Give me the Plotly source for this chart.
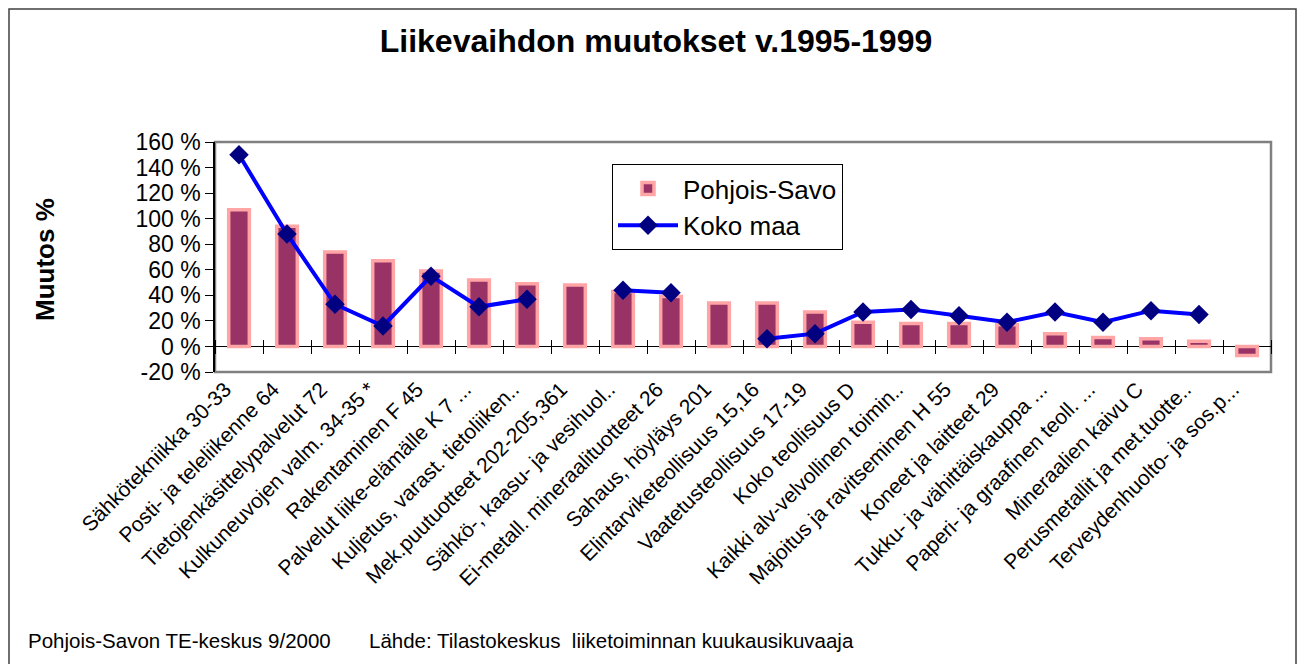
import plotly.graph_objects as go

categories = [
    "Sähkötekniikka 30-33",
    "Posti- ja teleliikenne 64",
    "Tietojenkäsittelypalvelut 72",
    "Kulkuneuvojen valm. 34-35 *",
    "Rakentaminen F 45",
    "Palvelut liike-elämälle K 7 ...",
    "Kuljetus, varast. tietoliiken..",
    "Mek.puutuotteet 202-205,361",
    "Sähkö-, kaasu- ja vesihuol..",
    "Ei-metall. mineraalituotteet 26",
    "Sahaus, höyläys 201",
    "Elintarviketeollisuus 15,16",
    "Vaatetusteollisuus 17-19",
    "Koko teollisuus D",
    "Kaikki alv-velvollinen toimin..",
    "Majoitus ja ravitseminen H 55",
    "Koneet ja laitteet 29",
    "Tukku- ja vähittäiskauppa ...",
    "Paperi- ja graafinen teoll. ...",
    "Mineraalien kaivu C",
    "Perusmetallit ja met.tuotte..",
    "Terveydenhuolto- ja sos.p...",
]

pohjois_savo = [107, 94, 74, 67, 59, 52, 49, 48, 43, 39, 34, 34, 27, 19, 18, 18,
                17, 10, 7, 6, 4, -7]
koko_maa = [150, 88, 33, 16, 55, 31, 37, None, 44, 42, None, 6, 10, 27, 29, 24,
            19, 27, 19, 28, 25, None]

y_tick_vals = [-20, 0, 20, 40, 60, 80, 100, 120, 140, 160]
y_tick_text = ["-20 %", "0 %", "20 %", "40 %", "60 %", "80 %", "100 %", "120 %", "140 %", "160 %"]

FONT = "Arial, Liberation Sans, sans-serif"

# page is 1305x672, the figure div sits at an 8px body margin
OFF = 8
PW, PH = 1305, 672
FW, FH = PW - 2 * OFF, PH - 2 * OFF
# plot area in page pixels
L, R, T, B = 215, 1271, 142, 372
Y_MIN, Y_MAX = -20, 160


def px_x(px):
    return (px - L) / (R - L)


def px_y(py):
    return (B - py) / (B - T)


n = len(categories)
TICK_HALF = 7  # half length of the crossing category ticks, px
zero_frac = (0 - Y_MIN) / (Y_MAX - Y_MIN)
tick_axis_pos = zero_frac + TICK_HALF / (B - T)

fig = go.Figure()
fig.add_trace(go.Bar(
    x=categories, y=pohjois_savo, name="Pohjois-Savo",
    marker=dict(color="#993366", line=dict(color="#FFA5A5", width=3.5)),
))
fig.add_trace(go.Scatter(
    x=categories, y=koko_maa, name="Koko maa", mode="lines+markers",
    connectgaps=False, xaxis="x2",
    line=dict(color="#0000FF", width=4),
    marker=dict(symbol="diamond", size=15, color="#000080"),
))

fig.update_layout(
    width=FW, height=FH,
    margin=dict(l=L - OFF, r=FW - (R - OFF), t=T - OFF, b=FH - (B - OFF), pad=0),
    paper_bgcolor="white", plot_bgcolor="white",
    bargap=0.57,
    font=dict(family=FONT, color="black"),
    title=dict(text="<b>Liikevaihdon muutokset v.1995-1999</b>",
               x=(656 - OFF) / FW, xanchor="center", xref="container",
               y=1 - (41 - OFF) / FH, yanchor="middle", yref="container",
               font=dict(size=32, family=FONT, color="black")),
    showlegend=True,
    legend=dict(x=px_x(612), y=px_y(164), xanchor="left", yanchor="top",
                bordercolor="black", borderwidth=1, bgcolor="white",
                font=dict(size=26, family=FONT, color="black"),
                itemwidth=60, tracegroupgap=0),
    xaxis=dict(type="category", anchor="y", range=[-0.5, n - 0.5],
               showline=False, ticks="", showgrid=False, zeroline=False,
               tickangle=-45, ticklabelshift=-14,
               tickfont=dict(size=21, family=FONT, color="black")),
    xaxis2=dict(type="category", overlaying="x", anchor="free",
                position=tick_axis_pos, side="bottom",
                range=[-0.5, n - 0.5],
                showline=False, ticks="outside", ticklen=2 * TICK_HALF,
                tickwidth=1.2, tickcolor="black", tickson="boundaries",
                showticklabels=False, showgrid=False, zeroline=False),
    yaxis=dict(range=[Y_MIN, Y_MAX], tickmode="array", tickvals=y_tick_vals,
               ticktext=y_tick_text, showline=True, linecolor="black",
               linewidth=1.5, ticks="outside", ticklen=8, tickwidth=1.2,
               tickcolor="black", showgrid=False,
               zeroline=True, zerolinecolor="black", zerolinewidth=1.2,
               tickfont=dict(size=23, family=FONT, color="black")),
    shapes=[
        dict(type="rect", xref="paper", yref="paper", x0=0, x1=1, y0=0, y1=1,
             line=dict(color="#808080", width=2.5), layer="below"),
        dict(type="rect", xref="paper", yref="paper",
             x0=px_x(OFF + 1), x1=px_x(PW - OFF - 1), y0=px_y(720), y1=px_y(OFF + 1),
             line=dict(color="#404040", width=1.5), layer="below"),
    ],
    annotations=[
        dict(text="<b>Muutos %</b>", textangle=-90, xref="paper", yref="paper",
             x=px_x(45), y=px_y(260), xanchor="center", yanchor="middle",
             showarrow=False, font=dict(size=26, family=FONT, color="black")),
        dict(text="Pohjois-Savon TE-keskus 9/2000", xref="paper", yref="paper",
             x=px_x(26), y=px_y(640), xanchor="left", yanchor="middle",
             showarrow=False, font=dict(size=20.5, family=FONT, color="black")),
        dict(text="Lähde: Tilastokeskus&nbsp;&nbsp;liiketoiminnan kuukausikuvaaja",
             xref="paper", yref="paper",
             x=px_x(367), y=px_y(640), xanchor="left", yanchor="middle",
             showarrow=False, font=dict(size=20.5, family=FONT, color="black")),
    ],
)

fig.write_html("out.html")
